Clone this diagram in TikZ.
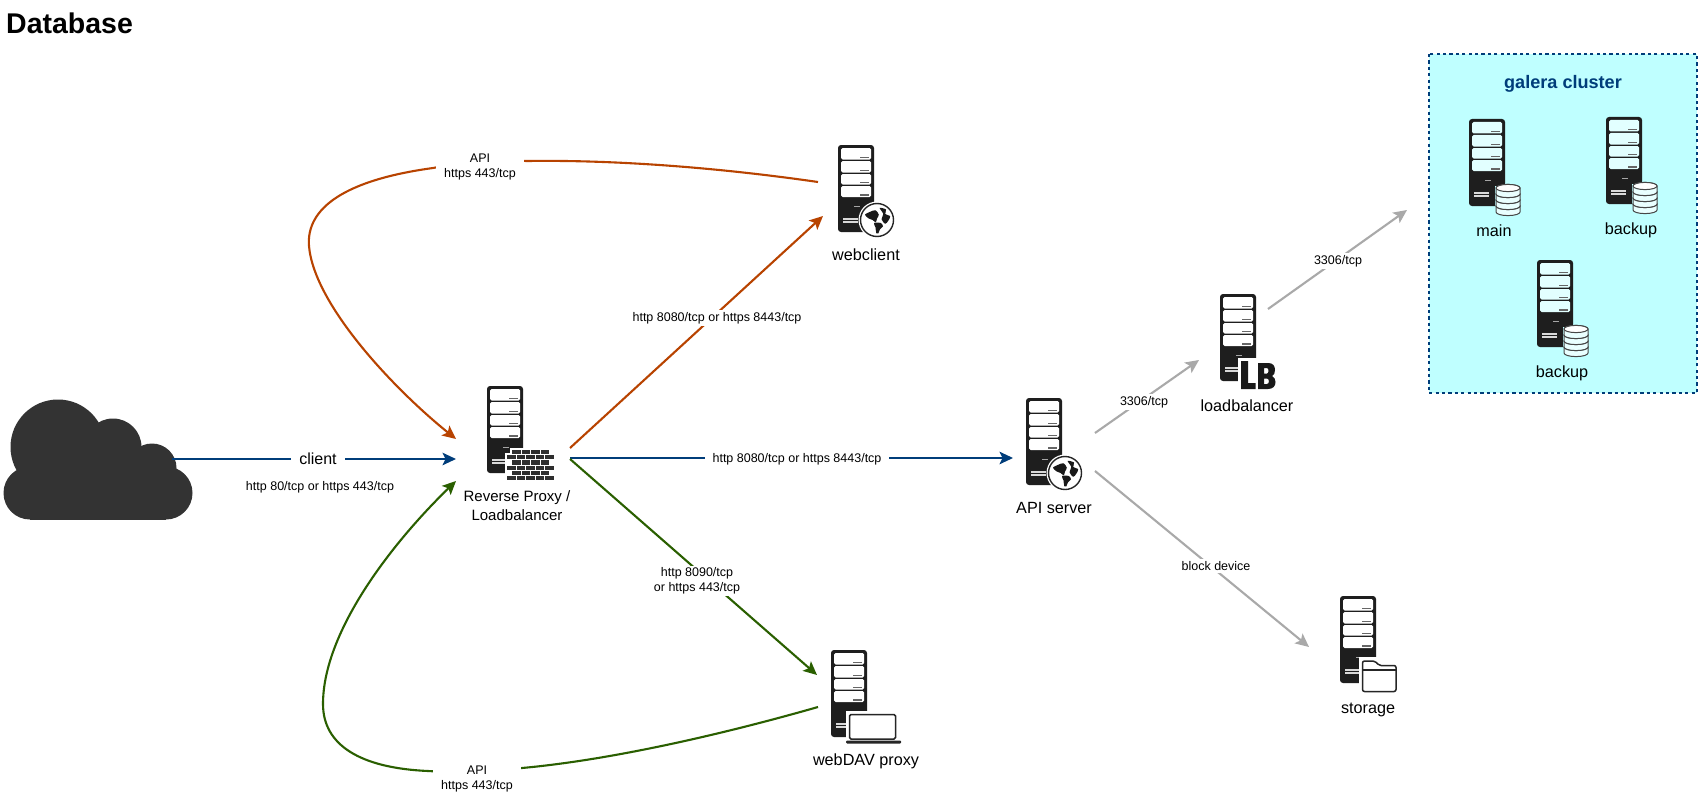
\documentclass[tikz,border=0pt]{standalone}
\usepackage{fontspec}
\setmainfont{Liberation Sans}
\usetikzlibrary{arrows.meta}
\definecolor{arrorange}{HTML}{B84300}
\definecolor{arrblue}{HTML}{003D7A}
\definecolor{arrgreen}{HTML}{2A5F00}
\definecolor{arrgrey}{HTML}{A9A9A9}
\definecolor{srvdark}{HTML}{1E1E1E}
\definecolor{galerabg}{HTML}{BFFFFF}
\definecolor{cloudc}{HTML}{333333}
\tikzset{
  conn/.style={line width=2.1pt,-{Stealth[length=13.5pt,width=12.5pt,inset=3pt]}},
  edgelabel/.style={font=\fontsize{12.5}{15}\selectfont,fill=white,inner xsep=8pt,inner ysep=2pt,align=center},
  freelabel/.style={font=\fontsize{12.5}{15}\selectfont,inner sep=1pt,align=center},
  srvlabel/.style={font=\fontsize{16.2}{19}\selectfont,inner sep=0pt,align=center},
  proxylabel/.style={font=\fontsize{15}{18.5}\selectfont,inner sep=0pt,align=center},
  clientlabel/.style={font=\fontsize{16}{19}\selectfont,fill=white,inner xsep=8pt,inner ysep=2pt},
  titlelabel/.style={font=\fontsize{28.5}{32}\selectfont\bfseries,inner sep=0pt,anchor=west},
  grouplabel/.style={font=\fontsize{18.1}{21}\selectfont\bfseries,text=arrblue,inner sep=0pt},
}
% server tower: #1 x, #2 y (top left), #3 bay colour
\newcommand{\srvtower}[3]{%
\begin{scope}[shift={(#1,#2)}]
  \fill[srvdark,rounded corners=3pt] (0,0) rectangle (36,87);
  \foreach \a/\b in {3/14.5,16/27.5,29/39.5,41/52}{
    \fill[#3,rounded corners=1.5pt] (3,\a) rectangle (33,\b);
    \fill[black!60] (22,\b-2.8) rectangle (30.5,\b-1.2);
  }
  \fill[black!35] (16,60.5) rectangle (22,62);
  \fill[black!15] (4.5,72.5) rectangle (20,74.5);
  \fill[black!15] (4.5,76) rectangle (20,78);
\end{scope}}
% globe: centre x, y
\newcommand{\srvglobe}[2]{%
\begin{scope}[shift={(#1,#2)}]
  \fill[white] (0,0) circle (18.5);
  \draw[black!85,line width=1.4pt] (0,0) circle (16.5);
  \begin{scope}[x=15pt,y=-15pt]
    \fill[black!90] plot[smooth cycle] coordinates {(-0.8,-0.35) (-0.45,-0.55) (-0.1,-0.65) (0.12,-0.35) (0,-0.1) (-0.08,0.15) (-0.3,0) (-0.55,-0.1)};
    \fill[black!90] plot[smooth cycle] coordinates {(-0.2,0.2) (0.25,0.2) (0.4,0.42) (0.2,0.62) (0.08,0.9) (-0.05,0.88) (-0.1,0.5)};
    \fill[black!90] plot[smooth cycle] coordinates {(0.18,-0.8) (0.6,-0.7) (0.55,-0.4) (0.88,-0.25) (0.75,0.05) (0.55,0.25) (0.3,-0.05) (0.42,-0.4)};
  \end{scope}
\end{scope}}
% database stack: centre x, top y, fill
\newcommand{\srvdb}[3]{%
\begin{scope}[shift={(#1,#2)}]
  \fill[#3] (-13.5,2) rectangle (13.5,29);
  \foreach \k in {18,12,6,0}{
    \filldraw[fill=#3!35!white,draw=black!72,line width=1pt,shift={(0,\k+4)}]
      (-12,0) -- (-12,6) arc[start angle=180,end angle=360,x radius=12,y radius=-3.6] -- (12,0)
      arc[start angle=0,end angle=-180,x radius=12,y radius=3.6] -- cycle;
    \filldraw[fill=white,draw=black!72,line width=1pt,shift={(0,\k+4)}] (0,0) ellipse[x radius=12,y radius=3.6];
  }
\end{scope}}
\begin{document}
\begin{tikzpicture}[x=1pt,y=-1pt]
\fill[white] (0,0) rectangle (1699,797);
\useasboundingbox (0,0) rectangle (1699,797);

\node[titlelabel] (title) at (6,23.5) {Database};

% galera group
\draw[draw=arrblue,fill=galerabg,line width=1.6pt,dash pattern=on 3.2pt off 3.2pt] (1429,54) rectangle (1697,393);
\node[grouplabel] (galeratitle) at (1563,83.5) {galera cluster};

% cloud
\fill[cloudc] (58,447) circle (47.5);
\fill[cloudc] (113,447) circle (28.5);
\fill[cloudc] (152,468) circle (24.5);
\fill[cloudc] (30,493) circle (26.5);
\fill[cloudc] (166,493) circle (26.5);
\fill[cloudc] (30,470) rectangle (166,519.5);
\coordinate (cloud) at (172,459);

% connector ends
\coordinate (proxyIn) at (456,459);
\coordinate (proxyInTop) at (456,439);
\coordinate (proxyInBot) at (456,481);
\coordinate (proxyOutN) at (570,448);
\coordinate (proxyOutE) at (570,458);
\coordinate (proxyOutS) at (570,459);
\coordinate (webIn) at (823,216);
\coordinate (webOut) at (818,182);
\coordinate (davIn) at (817,675);
\coordinate (davOut) at (818,707);
\coordinate (apiIn) at (1013,458);
\coordinate (apiOutN) at (1095,433);
\coordinate (apiOutS) at (1095,471);
\coordinate (lbIn) at (1199,360);
\coordinate (lbOut) at (1268,309);
\coordinate (galeraIn) at (1407,210);
\coordinate (storageIn) at (1309,647);

% connectors
\draw[conn,arrblue] (cloud) -- (proxyIn);
\draw[conn,arrblue] (proxyOutE) -- (apiIn);
\draw[conn,arrorange] (proxyOutN) -- (webIn);
\draw[conn,arrgreen] (proxyOutS) -- (davIn);
\draw[conn,arrorange] (webOut) .. controls (700,165) and (600,160) .. (528,161)
  .. controls (480,160) and (460,163) .. (433,168)
  .. controls (345,180) and (306,208) .. (309,246)
  .. controls (314,305) and (395,390) .. (proxyInTop);
\draw[conn,arrgreen] (davOut) .. controls (720,735) and (610,760) .. (522,768)
  .. controls (490,771) and (460,773) .. (428,771)
  .. controls (360,768) and (323,745) .. (323,704)
  .. controls (323,630) and (395,540) .. (proxyInBot);
\draw[conn,arrgrey] (apiOutN) -- (lbIn);
\draw[conn,arrgrey] (lbOut) -- (galeraIn);
\draw[conn,arrgrey] (apiOutS) -- (storageIn);

% connector labels
\node[clientlabel] (lclient) at (318,459) {client};
\node[freelabel] (lhttp80) at (320,487) {http 80/tcp or https 443/tcp};
\node[edgelabel] (lapiup) at (480,166.5) {API\\https 443/tcp};
\node[edgelabel] (lapidown) at (477,778.5) {API\\https 443/tcp};
\node[edgelabel] (lweb) at (717,318) {http 8080/tcp or https 8443/tcp};
\node[edgelabel] (lapi) at (797,459) {http 8080/tcp or https 8443/tcp};
\node[edgelabel] (ldav) at (697,581) {http 8090/tcp\\or https 443/tcp};
\node[edgelabel,inner xsep=3pt] (l3306a) at (1144,402) {3306/tcp};
\node[edgelabel,inner xsep=3pt] (l3306b) at (1338,261) {3306/tcp};
\node[edgelabel,inner xsep=3pt] (lblock) at (1216,566) {block device};

% proxy with firewall
\srvtower{487}{386}{white}
\fill[white] (510,448) rectangle (556,483);
\fill[white] (505,453) rectangle (512,482);
\foreach \r/\off/\n in {0/5/3,1/0/4,2/5/3,3/0/4,4/5/3,5/0/4}{
  \foreach \c in {0,...,\n}{
    \fill[black!82] (507+\off+\c*9.5,450+\r*5.2) rectangle (507+\off+\c*9.5+8.6,450+\r*5.2+4.2);
  }
}
\node[proxylabel] (proxy) at (517,505.5) {Reverse Proxy /\\Loadbalancer};

% webclient
\srvtower{838}{145}{white}
\srvglobe{877}{220}
\node[srvlabel] (webclient) at (866,255) {webclient};

% webDAV proxy
\srvtower{831}{650}{white}
\fill[white] (846,711) rectangle (903,745);
\draw[black!85,fill=white,line width=1.5pt,rounded corners=1.5pt] (849.5,714.5) rectangle (895.5,739);
\fill[black!85,rounded corners=1pt] (846,740.5) rectangle (901,743.5);
\node[srvlabel] (webdav) at (866,761) {webDAV proxy};

% API server
\srvtower{1026}{398}{white}
\srvglobe{1065}{473}
\node[srvlabel] (apiserver) at (1054,508) {API server};

% loadbalancer
\srvtower{1220}{294}{white}
\fill[white] (1238,358) rectangle (1278,383);
\fill[black!90] (1241,361) -- (1248,361) -- (1248,383) -- (1255.5,383) -- (1255.5,389) -- (1241,389) -- cycle;
\fill[black!90,even odd rule] (1258,363) -- (1268,363) .. controls (1273,363) and (1275,366) .. (1275,370)
  .. controls (1275,373) and (1274,375) .. (1272,376) .. controls (1274,377) and (1275.5,379) .. (1275.5,382)
  .. controls (1275.5,386) and (1273,389) .. (1268,389) -- (1258,389) -- cycle
  (1264,368) -- (1264,373.5) -- (1267,373.5) .. controls (1269,373.5) and (1269,368) .. (1267,368) -- cycle
  (1264,378.5) -- (1264,384) -- (1267,384) .. controls (1269.5,384) and (1269.5,378.5) .. (1267,378.5) -- cycle;
\node[srvlabel] (lb) at (1247,406) {loadbalancer};

% storage
\srvtower{1340}{596}{white}
\fill[white] (1359,657) rectangle (1400,695);
\draw[black!85,fill=white,line width=1.5pt,rounded corners=2pt] (1362.5,670) -- (1362.5,661) -- (1375,661) -- (1379,665.5) -- (1396,665.5) -- (1396,691.5) -- (1362.5,691.5) -- cycle;
\draw[black!85,line width=1.3pt] (1362.5,670) -- (1396,670);
\node[srvlabel] (storage) at (1368,709.5) {storage};

% galera members
\srvtower{1469}{119}{galerabg!45!white}
\srvdb{1508}{184}{galerabg}
\node[srvlabel] (main) at (1494,231) {main};
\srvtower{1606}{117}{galerabg!45!white}
\srvdb{1645}{182}{galerabg}
\node[srvlabel] (backupa) at (1631,230) {backup};
\srvtower{1537}{260}{galerabg!45!white}
\srvdb{1576}{325}{galerabg}
\node[srvlabel] (backupb) at (1562,373) {backup};
\end{tikzpicture}
\end{document}
